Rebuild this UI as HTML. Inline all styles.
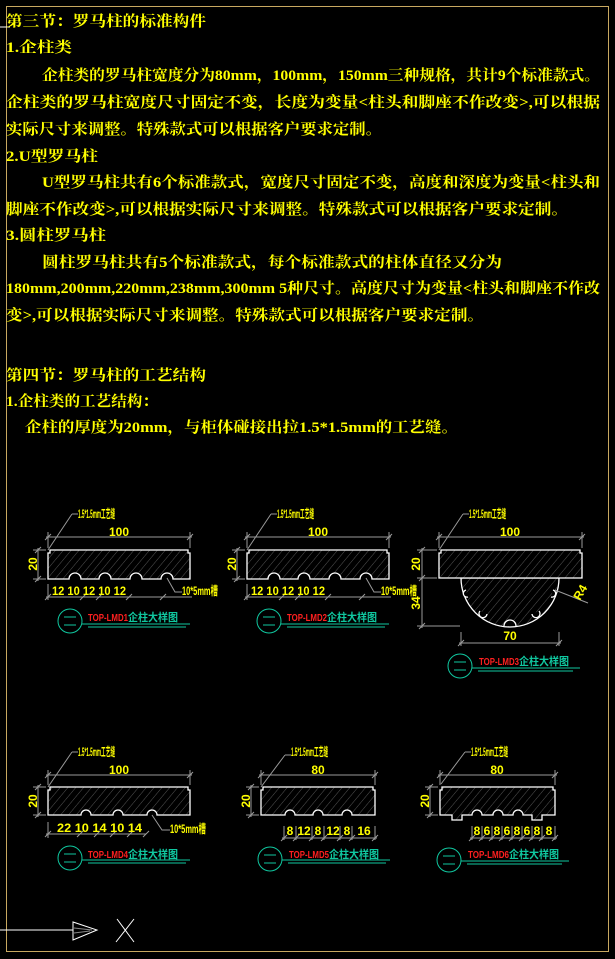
<!DOCTYPE html>
<html><head><meta charset="utf-8"><style>
html,body{margin:0;padding:0;background:#000;}
svg{display:block;}
.t{font-family:"Liberation Serif","Noto Serif CJK SC","Noto Sans CJK SC",serif;font-size:15px;font-weight:bold;fill:#ffff00;}
.d{font-family:"Liberation Sans","Noto Sans CJK SC",sans-serif;font-size:12px;font-weight:bold;fill:#ffff00;}
.r{font-family:"Liberation Sans","Noto Sans CJK SC",sans-serif;font-size:10px;font-weight:bold;fill:#ff2020;}
.g{font-family:"Liberation Sans","Noto Sans CJK SC",sans-serif;font-size:11px;font-weight:bold;fill:#10c8a0;}
.dim{stroke:#9a9a9a;stroke-width:1;fill:none;}
.sh{stroke:#fff;stroke-width:1.3;fill:url(#h);}
.tl{stroke:#10c8a0;stroke-width:1;fill:none;}
</style></head><body>
<svg width="615" height="959" viewBox="0 0 615 959" xmlns="http://www.w3.org/2000/svg">
<defs>
<pattern id="h" width="6" height="6" patternUnits="userSpaceOnUse" patternTransform="rotate(40)">
<rect width="6" height="6" fill="#000"/><line x1="0" y1="0" x2="0" y2="6" stroke="#555" stroke-width="1"/>
</pattern>
</defs>
<rect x="0" y="0" width="615" height="959" fill="#000"/>
<rect x="6.5" y="6.5" width="602" height="945" fill="none" stroke="#c8a860" stroke-width="1"/>
<line x1="0" y1="27" x2="10" y2="27" stroke="#fff"/>

<text class="t" x="6" y="26" textLength="200" lengthAdjust="spacingAndGlyphs">第三节：罗马柱的标准构件</text>
<text class="t" x="6" y="52" textLength="66" lengthAdjust="spacingAndGlyphs">1.企柱类</text>
<text class="t" x="42" y="80" textLength="558" lengthAdjust="spacingAndGlyphs">企柱类的罗马柱宽度分为80mm，100mm，150mm三种规格，共计9个标准款式。</text>
<text class="t" x="6" y="107" textLength="594" lengthAdjust="spacingAndGlyphs">企柱类的罗马柱宽度尺寸固定不变，长度为变量&lt;柱头和脚座不作改变&gt;,可以根据</text>
<text class="t" x="6" y="134" textLength="376" lengthAdjust="spacingAndGlyphs">实际尺寸来调整。特殊款式可以根据客户要求定制。</text>
<text class="t" x="6" y="161" textLength="92" lengthAdjust="spacingAndGlyphs">2.U型罗马柱</text>
<text class="t" x="42" y="187" textLength="558" lengthAdjust="spacingAndGlyphs">U型罗马柱共有6个标准款式，宽度尺寸固定不变，高度和深度为变量&lt;柱头和</text>
<text class="t" x="6" y="214" textLength="562" lengthAdjust="spacingAndGlyphs">脚座不作改变&gt;,可以根据实际尺寸来调整。特殊款式可以根据客户要求定制。</text>
<text class="t" x="6" y="240" textLength="100" lengthAdjust="spacingAndGlyphs">3.圆柱罗马柱</text>
<text class="t" x="42" y="267" textLength="460" lengthAdjust="spacingAndGlyphs">圆柱罗马柱共有5个标准款式，每个标准款式的柱体直径又分为</text>
<text class="t" x="6" y="293" textLength="594" lengthAdjust="spacingAndGlyphs">180mm,200mm,220mm,238mm,300mm 5种尺寸。高度尺寸为变量&lt;柱头和脚座不作改</text>
<text class="t" x="6" y="320" textLength="478" lengthAdjust="spacingAndGlyphs">变&gt;,可以根据实际尺寸来调整。特殊款式可以根据客户要求定制。</text>
<text class="t" x="6" y="380" textLength="200" lengthAdjust="spacingAndGlyphs">第四节：罗马柱的工艺结构</text>
<text class="t" x="6" y="406" textLength="152" lengthAdjust="spacingAndGlyphs">1.企柱类的工艺结构：</text>
<text class="t" x="25" y="432" textLength="433" lengthAdjust="spacingAndGlyphs">企柱的厚度为20mm，与柜体碰接出拉1.5*1.5mm的工艺缝。</text>

<!-- Panel 1 -->
<g>
<path class="sh" d="M48,553 L50,553 L50,550 L188,550 L188,553 L190,553 L190,579 L173,579 A6 6 0 0 0 161,579 L142,579 A6 6 0 0 0 130,579 L111,579 A6 6 0 0 0 99,579 L81,579 A6 6 0 0 0 69,579 L48,579 Z"/>
<path class="dim" d="M48,532 V548 M190,532 V548 M46,537 H192 M45,540 L51,534 M187,540 L193,534 M33,550 H46 M33,579 H46 M38,548 V581 M35,553 L41,547 M35,582 L41,576 M48,584 V600 M46,597 H192 M45,600 L51,594 M80,600 L86,594 M96,600 L102,594 M126,600 L132,594 M160,600 L166,594 M72,514 L48,550 M72,514 H78 M167,578 L175,592 H182"/>
<text class="d" x="119" y="536" text-anchor="middle">100</text>
<text class="d" transform="translate(37,564) rotate(-90)" text-anchor="middle">20</text>
<text class="d" x="52" y="595" textLength="74" lengthAdjust="spacingAndGlyphs">12 10 12 10 12</text>
<text class="d" x="78" y="518" textLength="37" font-size="10" lengthAdjust="spacingAndGlyphs">1.5*1.5mm工艺缝</text>
<text class="d" x="182" y="595" textLength="36" font-size="10" lengthAdjust="spacingAndGlyphs">10*5mm槽</text>
<circle class="tl" cx="70" cy="621" r="12"/><path class="tl" d="M64,617 H76 M64,625 H76 M82,624 H190 M88,627 H186"/>
<text class="r" x="88" y="621" textLength="40" lengthAdjust="spacingAndGlyphs">TOP-LMD1</text>
<text class="g" x="128" y="621" textLength="50" lengthAdjust="spacingAndGlyphs">企柱大样图</text>
</g>

<!-- Panel 2 -->
<g>
<path class="sh" d="M247,553 L249,553 L249,550 L387,550 L387,553 L389,553 L389,579 L372,579 A6 6 0 0 0 360,579 L341,579 A6 6 0 0 0 329,579 L310,579 A6 6 0 0 0 298,579 L280,579 A6 6 0 0 0 268,579 L247,579 Z"/>
<path class="dim" d="M247,532 V548 M389,532 V548 M245,537 H391 M244,540 L250,534 M386,540 L392,534 M232,550 H245 M232,579 H245 M237,548 V581 M234,553 L240,547 M234,582 L240,576 M247,584 V600 M245,597 H391 M244,600 L250,594 M279,600 L285,594 M295,600 L301,594 M325,600 L331,594 M359,600 L365,594 M271,514 L247,550 M271,514 H277 M366,578 L374,592 H381"/>
<text class="d" x="318" y="536" text-anchor="middle">100</text>
<text class="d" transform="translate(236,564) rotate(-90)" text-anchor="middle">20</text>
<text class="d" x="251" y="595" textLength="74" lengthAdjust="spacingAndGlyphs">12 10 12 10 12</text>
<text class="d" x="277" y="518" textLength="37" font-size="10" lengthAdjust="spacingAndGlyphs">1.5*1.5mm工艺缝</text>
<text class="d" x="381" y="595" textLength="36" font-size="10" lengthAdjust="spacingAndGlyphs">10*5mm槽</text>
<circle class="tl" cx="269" cy="621" r="12"/><path class="tl" d="M263,617 H275 M263,625 H275 M281,624 H389 M287,627 H385"/>
<text class="r" x="287" y="621" textLength="40" lengthAdjust="spacingAndGlyphs">TOP-LMD2</text>
<text class="g" x="327" y="621" textLength="50" lengthAdjust="spacingAndGlyphs">企柱大样图</text>
</g>

<!-- Panel 3 -->
<g>
<path class="sh" d="M461,578 A49 49 0 0 0 559,578 Z"/>
<path d="M466,590 a3.5 3.5 0 1 0 2,7 M480,611 a4 4 0 1 0 7,3 M504,626 a5 5 0 0 1 12,0 M532,614 a4 4 0 1 0 7,-3 M551,597 a3.5 3.5 0 1 0 2,-7" stroke="#fff" stroke-width="1.3" fill="#000"/>
<path class="sh" d="M439,553 L441,553 L441,550 L580,550 L580,553 L582,553 L582,578 L439,578 Z"/>
<path class="dim" d="M439,532 V548 M582,532 V548 M437,537 H584 M436,540 L442,534 M579,540 L585,534 M417,550 H437 M417,578 H437 M417,626 H460 M422,548 V628 M419,553 L425,547 M419,581 L425,575 M419,629 L425,623 M461,632 V646 M559,632 V646 M459,643 H561 M458,646 L464,640 M556,646 L562,640 M463,514 L439,550 M463,514 H469 M555,590 L588,603"/>
<text class="d" x="510" y="536" text-anchor="middle">100</text>
<text class="d" transform="translate(420,564) rotate(-90)" text-anchor="middle">20</text>
<text class="d" transform="translate(420,603) rotate(-90)" text-anchor="middle">34</text>
<text class="d" x="510" y="640" text-anchor="middle">70</text>
<text class="d" transform="translate(580,601) rotate(-60)" font-size="10">R4</text>
<text class="d" x="469" y="518" textLength="37" font-size="10" lengthAdjust="spacingAndGlyphs">1.5*1.5mm工艺缝</text>
<circle class="tl" cx="460" cy="666" r="12"/><path class="tl" d="M454,662 H466 M454,670 H466 M472,668 H580 M478,671 H573"/>
<text class="r" x="479" y="665" textLength="40" lengthAdjust="spacingAndGlyphs">TOP-LMD3</text>
<text class="g" x="519" y="665" textLength="50" lengthAdjust="spacingAndGlyphs">企柱大样图</text>
</g>

<!-- Panel 4 -->
<g>
<path class="sh" d="M48,790 L50,790 L50,787 L188,787 L188,790 L190,790 L190,815 L157,815 A5 5 0 0 0 147,815 L123,815 A5 5 0 0 0 113,815 L91,815 A5 5 0 0 0 81,815 L48,815 Z"/>
<path class="dim" d="M48,770 V785 M190,770 V785 M46,775 H192 M45,778 L51,772 M187,778 L193,772 M33,787 H46 M33,815 H46 M38,785 V817 M35,790 L41,784 M35,818 L41,812 M48,822 V838 M46,834 H146 M45,837 L51,831 M77,837 L83,831 M94,837 L100,831 M110,837 L116,831 M127,837 L133,831 M143,837 L149,831 M72,752 L48,787 M72,752 H78 M152,815 L162,830 H170"/>
<text class="d" x="119" y="774" text-anchor="middle">100</text>
<text class="d" transform="translate(37,801) rotate(-90)" text-anchor="middle">20</text>
<text class="d" x="57" y="832" textLength="85" lengthAdjust="spacingAndGlyphs">22  10 14 10 14</text>
<text class="d" x="78" y="756" textLength="37" font-size="10" lengthAdjust="spacingAndGlyphs">1.5*1.5mm工艺缝</text>
<text class="d" x="170" y="833" textLength="36" font-size="10" lengthAdjust="spacingAndGlyphs">10*5mm槽</text>
<circle class="tl" cx="70" cy="858" r="12"/><path class="tl" d="M64,854 H76 M64,862 H76 M82,860 H190 M88,863 H186"/>
<text class="r" x="88" y="858" textLength="40" lengthAdjust="spacingAndGlyphs">TOP-LMD4</text>
<text class="g" x="128" y="858" textLength="50" lengthAdjust="spacingAndGlyphs">企柱大样图</text>
</g>

<!-- Panel 5 -->
<g>
<path class="sh" d="M261,790 L263,790 L263,787 L373,787 L373,790 L375,790 L375,815 L352,815 A5 5 0 0 0 342,815 L323,815 A5 5 0 0 0 313,815 L295,815 A5 5 0 0 0 285,815 L261,815 Z"/>
<path class="dim" d="M261,770 V785 M375,770 V785 M259,775 H377 M258,778 L264,772 M372,778 L378,772 M246,787 H259 M246,815 H259 M251,785 V817 M248,790 L254,784 M248,818 L254,812 M284,826 V840 M296,826 V840 M312,826 V840 M324,826 V840 M340,826 V840 M352,826 V840 M375,826 V840 M282,838 H377 M281,841 L287,835 M293,841 L299,835 M309,841 L315,835 M321,841 L327,835 M337,841 L343,835 M349,841 L355,835 M372,841 L378,835 M285,755 L261,787 M285,755 H291"/>
<text class="d" x="318" y="774" text-anchor="middle">80</text>
<text class="d" transform="translate(250,801) rotate(-90)" text-anchor="middle">20</text>
<text class="d" x="290" y="835" text-anchor="middle">8</text>
<text class="d" x="304" y="835" text-anchor="middle">12</text>
<text class="d" x="318" y="835" text-anchor="middle">8</text>
<text class="d" x="333" y="835" text-anchor="middle">12</text>
<text class="d" x="347" y="835" text-anchor="middle">8</text>
<text class="d" x="364" y="835" text-anchor="middle">16</text>
<text class="d" x="291" y="756" textLength="37" font-size="10" lengthAdjust="spacingAndGlyphs">1.5*1.5mm工艺缝</text>
<circle class="tl" cx="270" cy="859" r="12"/><path class="tl" d="M264,855 H276 M264,863 H276 M282,860 H390 M288,863 H386"/>
<text class="r" x="289" y="858" textLength="40" lengthAdjust="spacingAndGlyphs">TOP-LMD5</text>
<text class="g" x="329" y="858" textLength="50" lengthAdjust="spacingAndGlyphs">企柱大样图</text>
</g>

<!-- Panel 6 -->
<g>
<path class="sh" d="M440,790 L442,790 L442,787 L553,787 L553,790 L555,790 L555,815 L542,815 L542,820 L532,820 L532,815 L523,815 A5 5 0 0 0 513,815 L503,815 A5 5 0 0 0 493,815 L482,815 A5 5 0 0 0 472,815 L462,815 L462,820 L452,820 L452,815 L440,815 Z"/>
<path class="dim" d="M440,770 V785 M555,770 V785 M438,775 H557 M437,778 L443,772 M552,778 L558,772 M425,787 H438 M425,815 H438 M430,785 V817 M427,790 L433,784 M427,818 L433,812 M472,826 V840 M482,826 V840 M492,826 V840 M502,826 V840 M512,826 V840 M522,826 V840 M532,826 V840 M542,826 V840 M555,826 V840 M470,838 H557 M469,841 L475,835 M479,841 L485,835 M489,841 L495,835 M499,841 L505,835 M509,841 L515,835 M519,841 L525,835 M529,841 L535,835 M539,841 L545,835 M552,841 L558,835 M465,752 L441,784 M465,752 H471"/>
<text class="d" x="497" y="774" text-anchor="middle">80</text>
<text class="d" transform="translate(429,801) rotate(-90)" text-anchor="middle">20</text>
<text class="d" x="477" y="835" text-anchor="middle">8</text>
<text class="d" x="487" y="835" text-anchor="middle">6</text>
<text class="d" x="497" y="835" text-anchor="middle">8</text>
<text class="d" x="507" y="835" text-anchor="middle">6</text>
<text class="d" x="517" y="835" text-anchor="middle">8</text>
<text class="d" x="527" y="835" text-anchor="middle">6</text>
<text class="d" x="537" y="835" text-anchor="middle">8</text>
<text class="d" x="549" y="835" text-anchor="middle">8</text>
<text class="d" x="471" y="756" textLength="37" font-size="10" lengthAdjust="spacingAndGlyphs">1.5*1.5mm工艺缝</text>
<circle class="tl" cx="449" cy="860" r="12"/><path class="tl" d="M443,856 H455 M443,864 H455 M461,861 H569 M467,864 H562"/>
<text class="r" x="468" y="858" textLength="41" lengthAdjust="spacingAndGlyphs">TOP-LMD6</text>
<text class="g" x="509" y="858" textLength="50" lengthAdjust="spacingAndGlyphs">企柱大样图</text>
</g>

<!-- UCS/arrow -->
<line x1="0" y1="930" x2="73" y2="930" stroke="#fff" stroke-width="1"/>
<path d="M73,922 L73,940 L97,930 Z" fill="none" stroke="#fff" stroke-width="1"/>
<path d="M74,928 L92,930 M74,933 L90,931" stroke="#888" stroke-width="1"/>
<path d="M117,919 L134,942 M134,919 L116,942" stroke="#fff" stroke-width="1"/>
</svg>
</body></html>
